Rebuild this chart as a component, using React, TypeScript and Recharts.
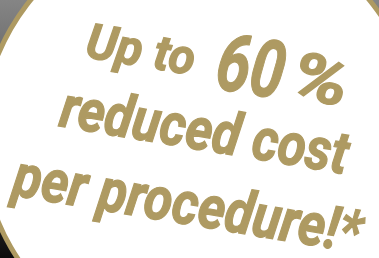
import { PieChart, Pie, Cell } from 'recharts';

const badgeSlices = [{ name: 'badge', value: 1 }];
const headlineLead = 'Up to';
const headlineValue = '60';
const headlineUnit = '%';
const secondLine = 'reduced cost';
const thirdLine = 'per procedure!*';

const GOLD = '#ae9a62';
const FONT = 'Roboto, "Liberation Sans", sans-serif';
const TILT = 9.5;

// one tilted, condensed line of copy; baseline starts at (x, y)
function Line({ x, y, size, width, children }: { x: number; y: number; size: number; width: number; children: string }) {
  return (
    <text
      x={x}
      y={y}
      fontSize={size}
      textLength={width}
      lengthAdjust="spacingAndGlyphs"
      transform={`rotate(${TILT}, ${x}, ${y})`}
    >
      {children}
    </text>
  );
}

// all the badge copy, drawn as the label of the rim ring so it sits on top
function renderBadgeText() {
  return (
    <g fill={GOLD} stroke={GOLD} strokeWidth={1.2} fontFamily={FONT} fontWeight="bold" fontStyle="italic">
      <Line x={84} y={57} size={49} width={110}>{headlineLead}</Line>
      <Line x={213} y={88} size={80} width={68}>{headlineValue}</Line>
      <Line x={288} y={97} size={66} width={58}>{headlineUnit}</Line>
      <Line x={58} y={126} size={59} width={291}>{secondLine}</Line>
      <Line x={11} y={195} size={60} width={352}>{thirdLine}</Line>
    </g>
  );
}

export default function App() {
  return (
    <div
      style={{
        position: 'fixed',
        top: 0,
        left: 0,
        width: 379,
        height: 258,
        overflow: 'hidden',
        background: 'linear-gradient(to bottom, #858585 0%, #4a4a4a 55%, #0c0c0c 100%)',
      }}
    >
      <PieChart width={379} height={258} margin={{ top: 0, right: 0, bottom: 0, left: 0 }}>
        <Pie
          data={badgeSlices}
          dataKey="value"
          cx={200}
          cy={138}
          innerRadius={0}
          outerRadius={219}
          startAngle={0}
          endAngle={360}
          stroke="none"
          isAnimationActive={false}
        >
          {badgeSlices.map((s) => (
            <Cell key={s.name} fill="#ffffff" />
          ))}
        </Pie>
        <Pie
          data={badgeSlices}
          dataKey="value"
          cx={200}
          cy={138}
          innerRadius={216}
          outerRadius={221}
          startAngle={0}
          endAngle={360}
          stroke="none"
          label={renderBadgeText}
          labelLine={false}
          isAnimationActive={false}
        >
          {badgeSlices.map((s) => (
            <Cell key={s.name} fill={GOLD} />
          ))}
        </Pie>
      </PieChart>
    </div>
  );
}
